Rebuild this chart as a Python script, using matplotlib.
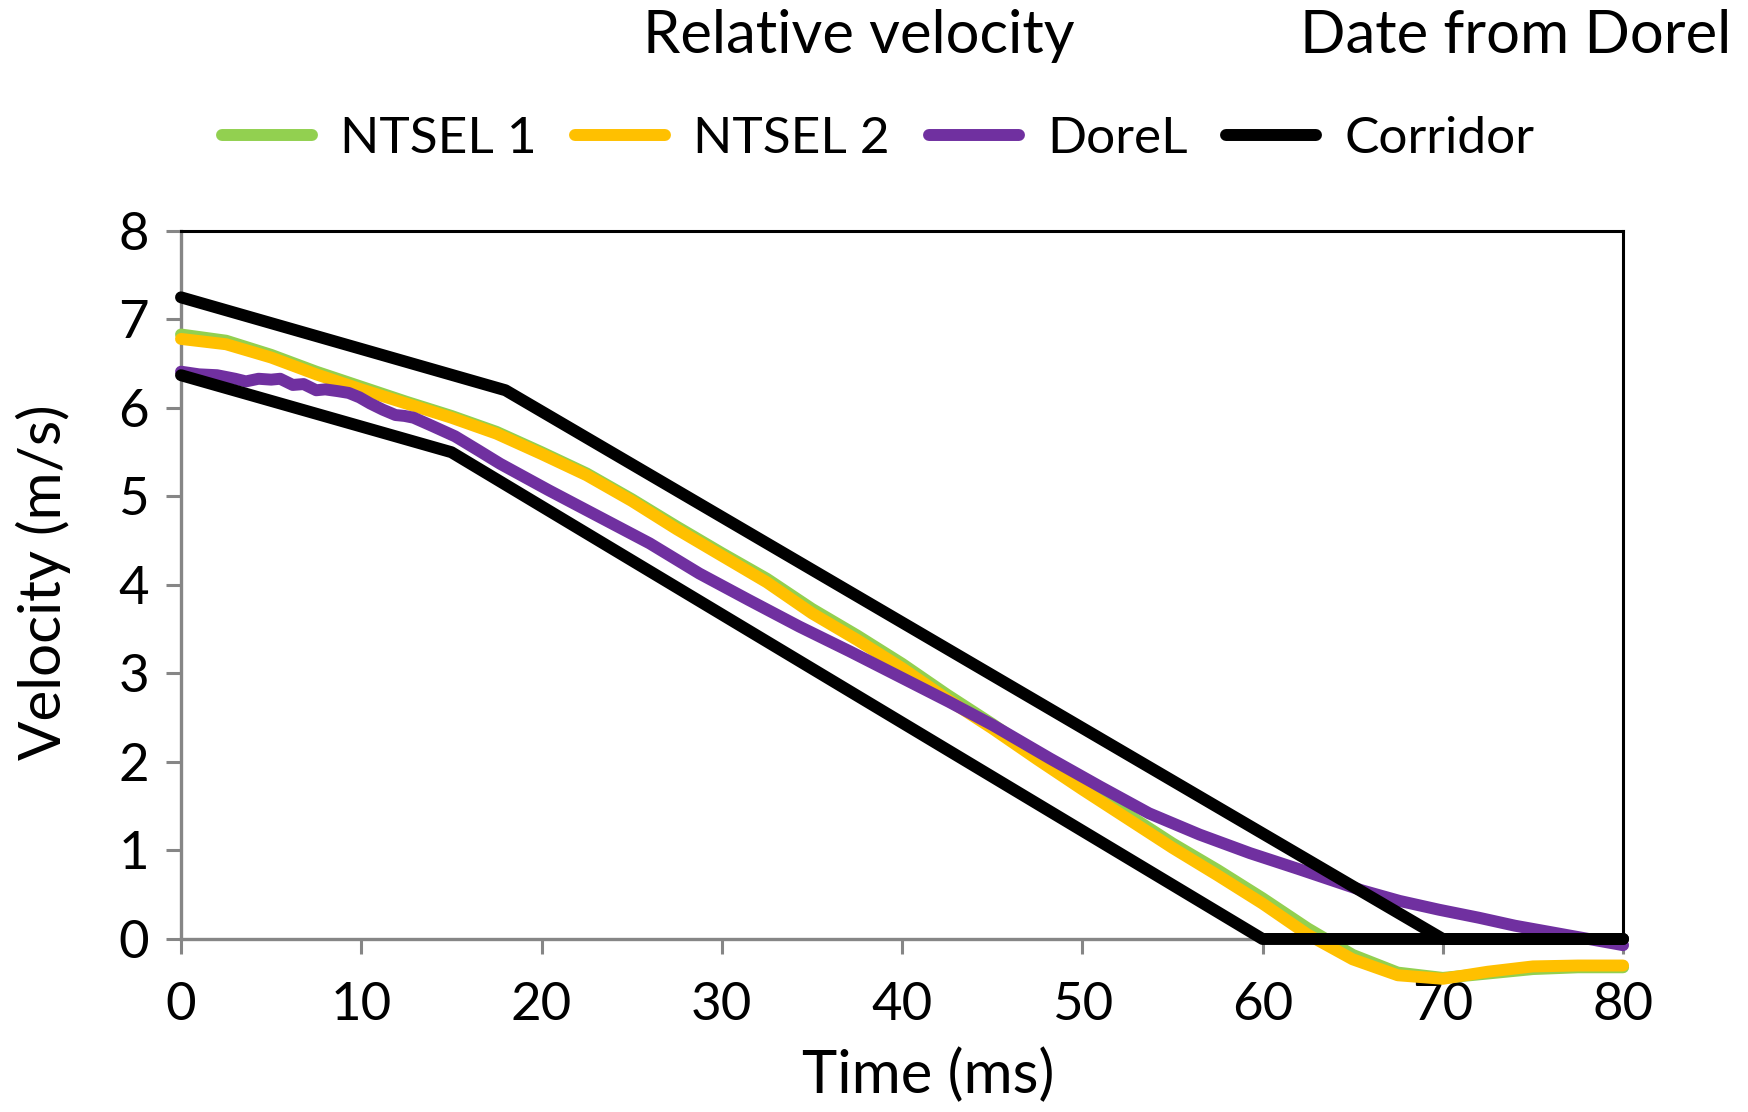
import numpy as np
import matplotlib
matplotlib.use("Agg")
import matplotlib.pyplot as plt

plt.rcParams['font.family'] = ['Lato', 'DejaVu Sans']

# NTSEL curves, sampled every 2.5 ms
t_ntsel = [0, 2.5, 5, 7.5, 10, 12.5, 15, 17.5, 20, 22.5, 25, 27.5, 30, 32.5, 35, 37.5,
           40, 42.5, 45, 47.5, 50, 52.5, 55, 57.5, 60, 62.5, 65, 67.5, 70, 72.5, 75, 77.5, 80]
v_ntsel1 = [6.83, 6.76, 6.60, 6.41, 6.24, 6.07, 5.91, 5.73, 5.50, 5.26, 4.97, 4.66, 4.36, 4.07,
            3.73, 3.43, 3.11, 2.76, 2.43, 2.08, 1.74, 1.41, 1.08, 0.78, 0.46, 0.12, -0.18,
            -0.38, -0.44, -0.39, -0.34, -0.32, -0.32]
v_ntsel2 = [6.78, 6.72, 6.57, 6.38, 6.21, 6.05, 5.89, 5.71, 5.48, 5.24, 4.95, 4.63, 4.33, 4.03,
            3.68, 3.38, 3.06, 2.71, 2.38, 2.03, 1.69, 1.36, 1.03, 0.72, 0.40, 0.05, -0.23,
            -0.41, -0.45, -0.37, -0.31, -0.30, -0.30]

# DoreL test data (noisy at the start)
t_dorel = [0, 1, 2, 3, 3.6, 4.3, 5, 5.5, 6.2, 6.8, 7.5, 8, 8.7, 9.3, 9.9, 10.5, 11.2, 11.9,
           12.4, 12.9, 13.9, 15.2, 16.5, 17.7, 20.4, 23.2, 26, 28.75, 31.5, 34.3, 37.1, 39.9,
           42.6, 45, 48.2, 51, 53.7, 56.5, 59.3, 62, 65.5, 67.6, 69.8, 72, 74, 77, 80]
v_dorel = [6.41, 6.38, 6.37, 6.33, 6.30, 6.33, 6.32, 6.33, 6.26, 6.27, 6.20, 6.21, 6.19, 6.17,
           6.12, 6.05, 5.98, 5.92, 5.91, 5.89, 5.80, 5.68, 5.52, 5.37, 5.07, 4.77, 4.47, 4.13,
           3.83, 3.53, 3.25, 2.96, 2.68, 2.42, 2.04, 1.72, 1.42, 1.18, 0.97, 0.79, 0.55, 0.43,
           0.33, 0.24, 0.15, 0.04, -0.07]

# corridor bounds
t_upper = [0, 18, 70, 80]
v_upper = [7.25, 6.2, 0, 0]
t_lower = [0, 15, 60, 80]
v_lower = [6.37, 5.5, 0, 0]

x_ticks = [0, 10, 20, 30, 40, 50, 60, 70, 80]
y_ticks = [0, 1, 2, 3, 4, 5, 6, 7, 8]

fig = plt.figure(figsize=(17.49, 11.12), dpi=100)
ax = fig.add_axes([0.1035, 0.1556, 0.8245, 0.6367])

lw = 8.6
kw = dict(solid_capstyle='round', solid_joinstyle='round', clip_on=False)
ax.plot(t_ntsel, v_ntsel1, color='#92d050', lw=lw, label='NTSEL 1', zorder=3, **kw)
ax.plot(t_ntsel, v_ntsel2, color='#ffc000', lw=lw, label='NTSEL 2', zorder=4, **kw)
ax.plot(t_dorel, v_dorel, color='#7030a0', lw=lw, label='DoreL', zorder=5, **kw)
ax.plot(t_upper, v_upper, color='black', lw=lw, label='Corridor', zorder=6, **kw)
ax.plot(t_lower, v_lower, color='black', lw=lw, zorder=6, **kw)

ax.set_xlim(0, 80)
ax.set_ylim(0, 8)
ax.set_xticks(x_ticks)
ax.set_yticks(y_ticks)

for side in ['left', 'bottom']:
    ax.spines[side].set_color('#868686')
    ax.spines[side].set_linewidth(2.4)
for side in ['top', 'right']:
    ax.spines[side].set_color('black')
    ax.spines[side].set_linewidth(2.2)

ax.tick_params(direction='out', length=11, width=2.2, color='#868686',
               labelsize=38, pad=12)
ax.tick_params(axis='x', pad=20)

ax.set_xlabel('Time (ms)', fontsize=43)
ax.set_ylabel('Velocity (m/s)', fontsize=42)
ax.xaxis.set_label_coords(0.518, -0.153)
ax.yaxis.set_label_coords(-0.076, 0.504)

fig.text(0.491, 0.968, 'Relative velocity', fontsize=43, ha='center', va='center')
fig.text(0.990, 0.968, 'Date from Dorel', fontsize=43, ha='right', va='center')

leg = fig.legend(loc='center', bbox_to_anchor=(0.502, 0.875), ncol=4, frameon=False,
                 fontsize=37, handlelength=1.75, handletextpad=0.55, columnspacing=0.75)
for h in leg.get_lines():
    h.set_linewidth(lw)
    h.set_solid_capstyle('round')

fig.savefig('out.png', dpi=100)
